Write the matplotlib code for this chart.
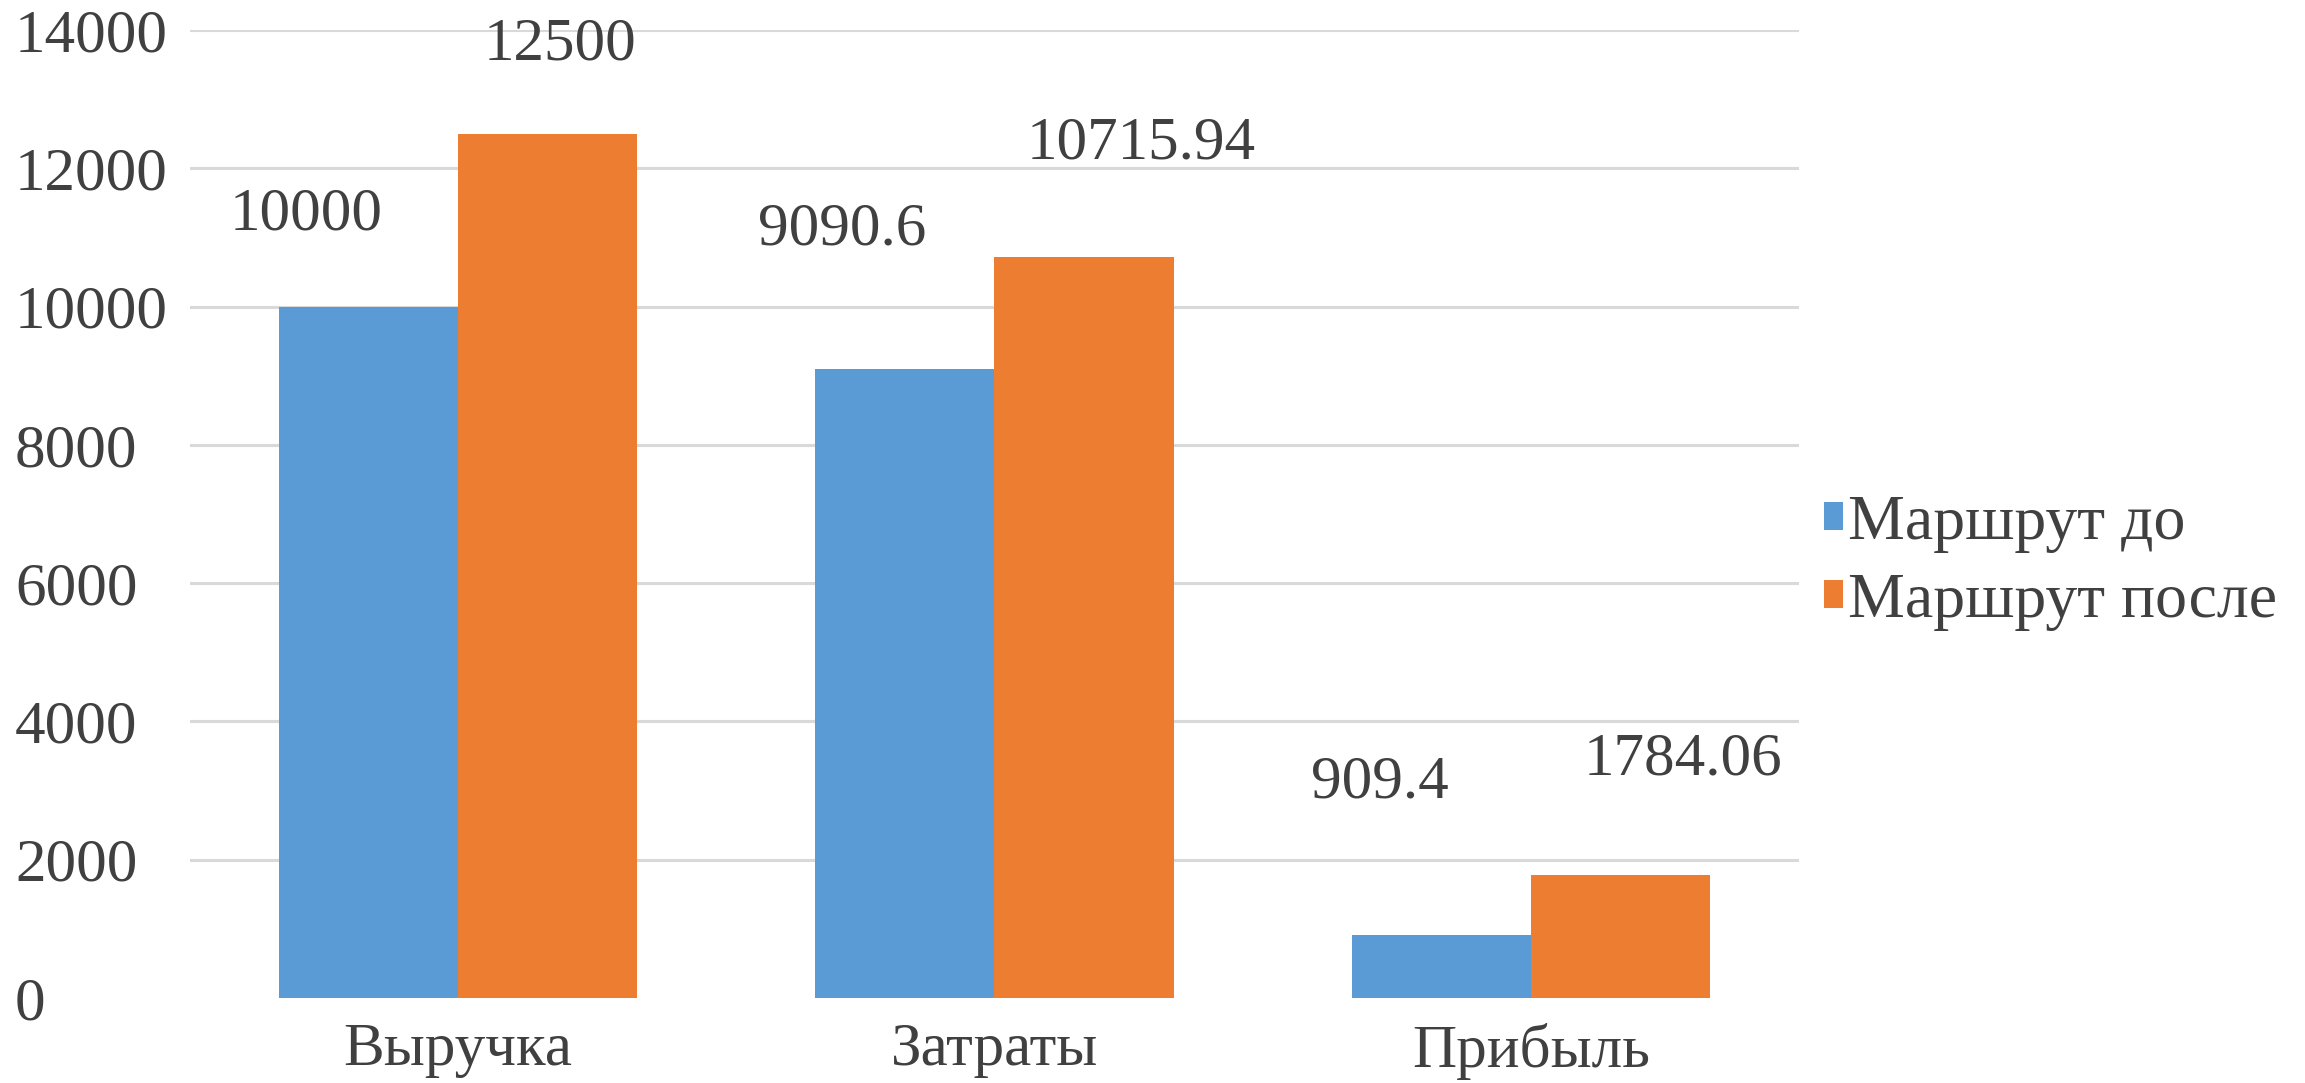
import numpy as np
import matplotlib
matplotlib.use('Agg')
import matplotlib.pyplot as plt

categories = ['Выручка', 'Затраты', 'Прибыль']
series_names = ['Маршрут до', 'Маршрут после']
before = [10000, 9090.6, 909.4]
after = [12500, 10715.94, 1784.06]
before_labels = ['10000', '9090.6', '909.4']
after_labels = ['12500', '10715.94', '1784.06']
y_ticks = [0, 2000, 4000, 6000, 8000, 10000, 12000, 14000]

colors = ['#5B9BD5', '#ED7D31']
text_color = '#404040'
# hand placed label offsets (pixels from bar top centre), as in the original
before_offsets = [(-62, 92), (-63, 140), (-61, 152)]
after_offsets = [(12, 89), (57, 113), (63, 115)]

plt.rcParams['font.family'] = ['Liberation Serif', 'DejaVu Serif']
fs = 44

fig = plt.figure(figsize=(23.05, 10.83), dpi=100)
ax = fig.add_axes([190 / 2305, 1 - 998 / 1083, (1799 - 190) / 2305, (998 - 30) / 1083])

x = np.arange(len(categories))
w = 0.334
b1 = ax.bar(x - w / 2, before, w, color=colors[0], label=series_names[0], zorder=3)
b2 = ax.bar(x + w / 2, after, w, color=colors[1], label=series_names[1], zorder=3)

for bars, labels, offs in [(b1, before_labels, before_offsets), (b2, after_labels, after_offsets)]:
    for bar, lab, (dx, dy) in zip(bars, labels, offs):
        ax.annotate(lab, (bar.get_x() + bar.get_width() / 2, bar.get_height()),
                    xytext=(dx, dy), textcoords='offset pixels',
                    ha='center', va='center', fontsize=fs, color=text_color)

ax.set_xlim(-0.5, 2.5)
ax.set_ylim(0, 14000)
ax.set_yticks(y_ticks)
ax.set_yticklabels([str(t) for t in y_ticks])
ax.set_xticks(x)
ax.set_xticklabels(categories)

for t in y_ticks[1:]:
    ax.axhline(t, color='#d9d9d9', linewidth=2.2, zorder=1)

for s in ax.spines.values():
    s.set_visible(False)
ax.tick_params(axis='both', length=0, labelsize=fs, colors=text_color)
ax.tick_params(axis='y', pad=126)
ax.tick_params(axis='x', pad=18)
for lab in ax.get_yticklabels():
    lab.set_ha('left')

leg = fig.legend(loc='center left', bbox_to_anchor=(1824 / 2305, 1 - 563 / 1083),
                 frameon=False, fontsize=46, handlelength=0.3, handleheight=0.3,
                 handletextpad=0.08, labelspacing=0.3, borderpad=0, borderaxespad=0)
for txt in leg.get_texts():
    txt.set_color(text_color)

fig.savefig('out.png', dpi=100)
